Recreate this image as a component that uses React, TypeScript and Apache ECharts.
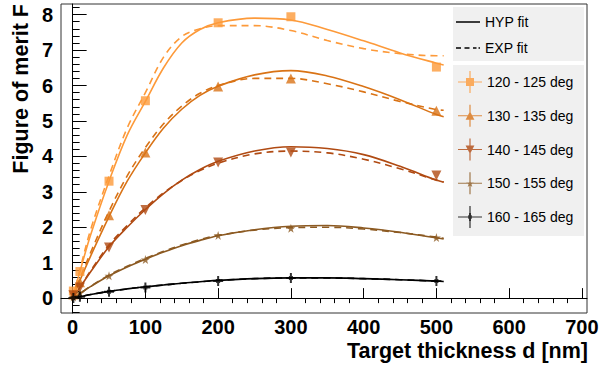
import React, { useEffect, useRef } from "react";
import * as echarts from "echarts";

// ---- data ----
const seriesNames = ["120 - 125 deg", "130 - 135 deg", "140 - 145 deg", "150 - 155 deg", "160 - 165 deg"];
const seriesColors = ["#fd9a3a", "#d97316", "#b04a12", "#8c5a22", "#000000"];

const dPoints = [1, 10, 50, 100, 200, 300, 500];
const f120 = [0.2, 0.75, 3.3, 5.57, 7.77, 7.94, 6.52];
const f130 = [0.1, 0.45, 2.34, 4.11, 5.97, 6.2, 5.29];
const f140 = [0.08, 0.3, 1.43, 2.49, 3.83, 4.11, 3.46];
const f150 = [0.03, 0.15, 0.63, 1.09, 1.77, 1.97, 1.71];
const f160 = [0.0, 0.04, 0.18, 0.3, 0.48, 0.57, 0.48];

const dFit = [0, 10, 25, 50, 75, 100, 125, 150, 175, 200, 250, 300, 350, 400, 450, 500, 510];
const hyp120 = [0, 0.75, 1.8, 3.3, 4.6, 5.55, 6.5, 7.2, 7.58, 7.77, 7.9, 7.85, 7.58, 7.26, 6.92, 6.63, 6.58];
const exp120 = [0, 0.8, 1.95, 3.45, 4.8, 5.8, 6.8, 7.38, 7.6, 7.69, 7.69, 7.55, 7.27, 7.04, 6.9, 6.84, 6.84];
const hyp130 = [0, 0.5, 1.2, 2.3, 3.3, 4.1, 4.8, 5.33, 5.72, 5.98, 6.3, 6.42, 6.27, 5.97, 5.6, 5.18, 5.12];
const exp130 = [0, 0.55, 1.3, 2.45, 3.45, 4.25, 4.92, 5.42, 5.78, 6.0, 6.2, 6.2, 6.05, 5.82, 5.55, 5.32, 5.3];
const hyp140 = [0, 0.3, 0.75, 1.45, 2.0, 2.5, 2.95, 3.33, 3.63, 3.86, 4.15, 4.27, 4.22, 4.05, 3.72, 3.33, 3.27];
const exp140 = [0, 0.3, 0.78, 1.5, 2.05, 2.55, 2.97, 3.32, 3.6, 3.81, 4.07, 4.15, 4.1, 3.92, 3.65, 3.33, 3.28];
const hyp150 = [0, 0.13, 0.33, 0.63, 0.88, 1.1, 1.3, 1.48, 1.63, 1.76, 1.93, 2.03, 2.05, 1.98, 1.86, 1.7, 1.67];
const exp150 = [0, 0.13, 0.34, 0.65, 0.9, 1.12, 1.32, 1.5, 1.65, 1.77, 1.92, 1.99, 2.0, 1.95, 1.85, 1.72, 1.69];
const hyp160 = [0, 0.04, 0.1, 0.19, 0.26, 0.32, 0.37, 0.42, 0.46, 0.5, 0.55, 0.57, 0.57, 0.55, 0.52, 0.48, 0.47];
const exp160 = [0, 0.04, 0.1, 0.19, 0.26, 0.32, 0.37, 0.42, 0.46, 0.5, 0.55, 0.57, 0.57, 0.55, 0.52, 0.48, 0.47];

const xMajorTicks = [0, 100, 200, 300, 400, 500, 600, 700];
const yMajorTicks = [0, 1, 2, 3, 4, 5, 6, 7, 8];

const xTitle = "Target thickness d [nm]";
const yTitle = "Figure of merit F";
const fitNames = ["HYP fit", "EXP fit"];

const X_MIN = -16, X_MAX = 707, Y_MIN = -0.42, Y_MAX = 8.3;

function minorTicks(step: number, lo: number, hi: number, sub: number) {
  const out: number[] = [];
  const first = Math.ceil(lo / step - 1e-9);
  const last = Math.floor(hi / step + 1e-9);
  for (let k = first; k <= last; k++) {
    if (k % sub !== 0) out.push(+(k * step).toFixed(4));
  }
  return out;
}

const pointSets = [f120, f130, f140, f150, f160];
const hypSets = [hyp120, hyp130, hyp140, hyp150, hyp160];
const expSets = [exp120, exp130, exp140, exp150, exp160];

const bars = "M0,10.4h24v1.2h-24z M11.4,0h1.2v22h-1.2z";
const legendIcons = [
  "path://" + bars + " M8,7h8v8h-8z",
  "path://" + bars + " M7.6,15L12,6.6L16.4,15z",
  "path://" + bars + " M7.6,7L16.4,7L12,15.4z",
  "path://" + bars + " M12,7.4L12.88,10.2L15.84,10.2L13.44,11.96L14.32,14.68L12,13L9.68,14.68L10.56,11.96L8.16,10.2L11.12,10.2z",
  "path://" + bars + " M10.2,9.2h3.6v3.6h-3.6z M11,7h2v8h-2z",
];
const pointSymbols = [
  "rect",
  "triangle",
  "path://M0,0L10,0L5,9z",
  "path://M50,0L61,35L98,35L68,57L79,91L50,70L21,91L32,57L2,35L39,35z",
  "path://M4,0h2v10h-2z M0,4h10v2h-10z M3,3h4v4h-4z",
];
const pointSizes = [9, 10, 10, 9, 10];

const FONT = "Liberation Sans, Arial, Helvetica, sans-serif";

export default function App() {
  const ref = useRef<HTMLDivElement>(null);
  useEffect(() => {
    if (!ref.current) return;
    const chart = echarts.init(ref.current, undefined, { renderer: "svg" });

    const series: any[] = [];
    seriesNames.forEach((name, i) => {
      series.push({
        name: name + " HYP",
        type: "line",
        smooth: 0.35,
        symbol: "none",
        xAxisIndex: 0,
        yAxisIndex: 0,
        lineStyle: { color: seriesColors[i], width: 1.6 },
        data: dFit.map((d, j) => [d, hypSets[i][j]]),
        z: 2,
      });
      series.push({
        name: name + " EXP",
        type: "line",
        smooth: 0.35,
        symbol: "none",
        xAxisIndex: 0,
        yAxisIndex: 0,
        lineStyle: { color: seriesColors[i], width: 1.6, type: [7, 5] },
        data: dFit.map((d, j) => [d, expSets[i][j]]),
        z: 2,
      });
      series.push({
        name,
        type: "scatter",
        symbol: pointSymbols[i],
        symbolSize: pointSizes[i],
        xAxisIndex: 0,
        yAxisIndex: 0,
        itemStyle: { color: seriesColors[i], borderWidth: 0 },
        data: dPoints.map((d, j) => [d, pointSets[i][j]]),
        z: 3,
      });
    });
    fitNames.forEach((n) => {
      series.push({
        name: n,
        type: "line",
        symbol: "none",
        color: "#000",
        itemStyle: { color: "#000", borderWidth: 0 },
        lineStyle: { color: "#000" },
        data: [],
      });
    });

    const labelFont = { fontFamily: FONT, fontWeight: "bold" as const, fontSize: 20, color: "#000" };

    chart.setOption({
      animation: false,
      backgroundColor: "#ffffff",
      grid: {
        left: 61,
        top: 4,
        right: 24,
        bottom: 52,
        show: true,
        borderColor: "#333",
        borderWidth: 1,
        backgroundColor: "transparent",
      },
      xAxis: [
        {
          type: "value",
          min: X_MIN,
          max: X_MAX,
          axisLine: { show: true, lineStyle: { color: "#000", width: 1 } },
          axisTick: { show: true, inside: true, length: 10, customValues: xMajorTicks, lineStyle: { color: "#000" } },
          axisLabel: { show: true, customValues: xMajorTicks, margin: 4, ...labelFont },
          splitLine: { show: false },
        },
        {
          type: "value",
          min: X_MIN,
          max: X_MAX,
          axisLine: { show: false },
          axisTick: { show: true, inside: true, length: 5, customValues: minorTicks(20, 0, 700, 5), lineStyle: { color: "#000" } },
          axisLabel: { show: false },
          splitLine: { show: false },
        },
      ],
      yAxis: [
        {
          type: "value",
          min: Y_MIN,
          max: Y_MAX,
          axisLine: { show: true, lineStyle: { color: "#000", width: 1 } },
          axisTick: { show: true, inside: true, length: 14, customValues: yMajorTicks, lineStyle: { color: "#000" } },
          axisLabel: { show: true, customValues: yMajorTicks, margin: 8, ...labelFont },
          splitLine: { show: false },
        },
        {
          type: "value",
          min: Y_MIN,
          max: Y_MAX,
          position: "left",
          axisLine: { show: false },
          axisTick: { show: true, inside: true, length: 7, customValues: minorTicks(0.2, -0.4, 8.2, 5), lineStyle: { color: "#000" } },
          axisLabel: { show: false },
          splitLine: { show: false },
        },
      ],
      legend: [
        {
          data: fitNames.map((n, k) => ({
            name: n,
            icon: k === 0
              ? "path://M0,0h24v1.5h-24z"
              : "path://M0,0h5v1.5h-5z M8.5,0h5v1.5h-5z M17,0h3.5v1.5h-3.5z M22.5,0h1.5v1.5h-1.5z",
          })),
          orient: "vertical",
          left: 456,
          top: 15,
          itemWidth: 24,
          itemHeight: 14,
          itemGap: 12,
          padding: 0,
          selectedMode: false,
          itemStyle: { borderWidth: 0 },
          textStyle: { fontFamily: FONT, fontSize: 14, color: "#000" },
        },
        {
          data: seriesNames.map((n, k) => ({ name: n, icon: legendIcons[k] })),
          orient: "vertical",
          left: 458,
          top: 71,
          itemWidth: 24,
          itemHeight: 22,
          itemGap: 11.75,
          padding: 0,
          selectedMode: false,
          itemStyle: { borderWidth: 0 },
          textStyle: { fontFamily: FONT, fontSize: 14, color: "#000" },
        },
      ],
      graphic: [
        { type: "rect", z: -1, shape: { x: 453, y: 7, width: 131, height: 54 }, style: { fill: "#f0f0f0" } },
        { type: "rect", z: -1, shape: { x: 453, y: 65, width: 131, height: 171 }, style: { fill: "#f0f0f0" } },
        {
          type: "text",
          x: 588,
          y: 351,
          style: { text: xTitle, align: "right", verticalAlign: "middle", fill: "#000", font: `bold 21.5px ${FONT}` },
        },
        {
          type: "text",
          x: 21,
          y: 4,
          rotation: Math.PI / 2,
          style: { text: yTitle, align: "right", verticalAlign: "middle", fill: "#000", font: `bold 21.5px ${FONT}` },
        },
      ],
      series,
    });
    return () => chart.dispose();
  }, []);
  return <div ref={ref} style={{ position: "fixed", left: 0, top: 0, width: 611, height: 365 }} />;
}
